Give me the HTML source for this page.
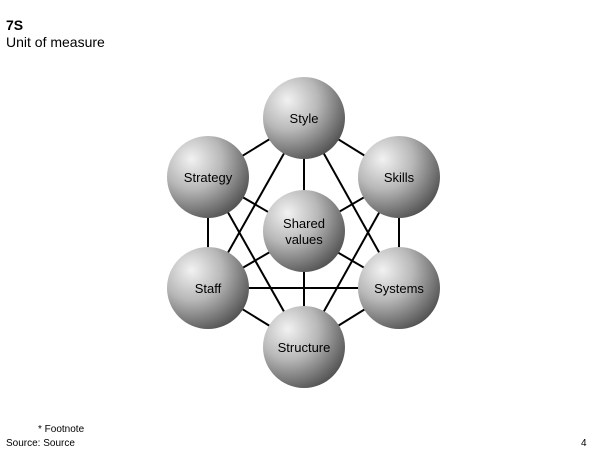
<!DOCTYPE html>
<html><head><style>
body{margin:0;background:#fff;width:605px;height:452px;overflow:hidden;font-family:"Liberation Sans",Arial,sans-serif;position:relative}
.t{position:absolute;left:6px;color:#000}
</style></head><body>
<div class="t" style="top:17px;font-weight:bold;font-size:14px">7S</div>
<div class="t" style="top:34px;font-size:14px">Unit of measure</div>
<div class="t" style="top:424px;left:38px;font-size:10px">* Footnote</div>
<div class="t" style="top:438px;font-size:10px">Source: Source</div>
<div class="t" style="top:438px;left:581px;font-size:10px">4</div>
<svg width="605" height="452" style="position:absolute;left:0;top:0">
<defs><radialGradient id="g" cx="0.32" cy="0.3" r="0.8" fx="0.3" fy="0.28">
<stop offset="0" stop-color="#f2f2f2"/><stop offset="0.45" stop-color="#b8b8b8"/><stop offset="1" stop-color="#4a4a4a"/></radialGradient></defs>
<g stroke="#000" stroke-width="2">
<line x1="304" y1="118" x2="208" y2="177"/><line x1="304" y1="118" x2="399" y2="177"/>
<line x1="304" y1="118" x2="208" y2="288"/><line x1="304" y1="118" x2="399" y2="288"/>
<line x1="304" y1="118" x2="304" y2="347"/>
<line x1="208" y1="177" x2="208" y2="288"/><line x1="399" y1="177" x2="399" y2="288"/>
<line x1="208" y1="177" x2="304" y2="347"/><line x1="399" y1="177" x2="304" y2="347"/>
<line x1="208" y1="177" x2="399" y2="288"/><line x1="399" y1="177" x2="208" y2="288"/>
<line x1="208" y1="288" x2="399" y2="288"/>
<line x1="208" y1="288" x2="304" y2="347"/><line x1="399" y1="288" x2="304" y2="347"/>
</g>
<g fill="url(#g)">
<circle cx="304" cy="118" r="41"/><circle cx="208" cy="177" r="41"/><circle cx="399" cy="177" r="41"/>
<circle cx="304" cy="231" r="41"/><circle cx="208" cy="288" r="41"/><circle cx="399" cy="288" r="41"/>
<circle cx="304" cy="347" r="41"/>
</g>
<g font-family="Liberation Sans,Arial,sans-serif" font-size="13" text-anchor="middle" fill="#000">
<text x="304" y="123">Style</text><text x="208" y="182">Strategy</text><text x="399" y="182">Skills</text>
<text x="304" y="228">Shared</text><text x="304" y="244">values</text>
<text x="208" y="293">Staff</text><text x="399" y="293">Systems</text><text x="304" y="352">Structure</text>
</g>
</svg>
</body></html>
